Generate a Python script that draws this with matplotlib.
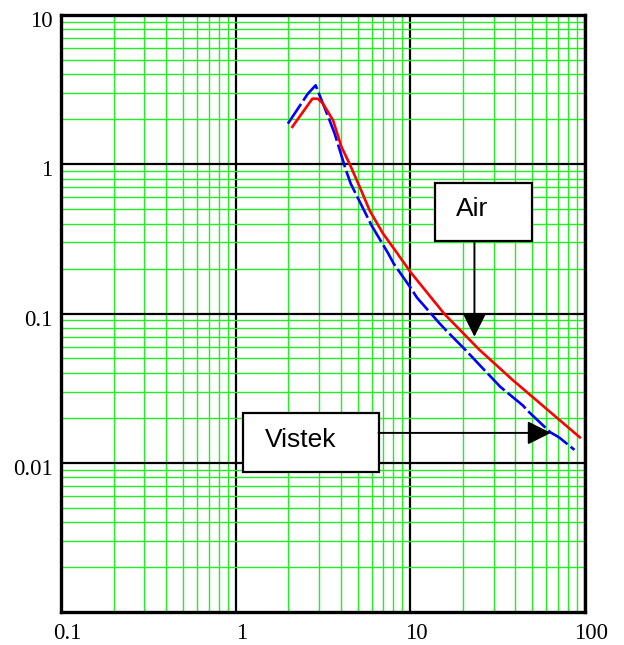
import numpy as np
import matplotlib.pyplot as plt
from matplotlib.patches import Rectangle
from matplotlib.transforms import ScaledTranslation

# values (log-log)
air_x = [2.11, 2.75, 2.95, 3.16, 3.61, 4.03, 4.5, 5.13, 5.85, 6.98, 8.32, 10.0, 15.7, 24.9, 38.7, 93.4]
air_y = [1.78, 2.75, 2.75, 2.55, 1.97, 1.31, 1.0, 0.705, 0.49, 0.343, 0.258, 0.19, 0.099, 0.057, 0.0357, 0.0148]

vistek_x = [1.99, 2.59, 2.87, 3.42, 3.69, 4.27, 4.56, 5.55, 5.99, 7.45, 8.03, 10.1, 10.9, 14.6,
            16.1, 20.8, 25.0, 32.8, 43.9, 48.3, 63.3, 71.0, 87.0]
vistek_y = [1.87, 2.97, 3.38, 2.02, 1.60, 0.92, 0.74, 0.467, 0.39, 0.254, 0.216, 0.147, 0.128, 0.0866,
            0.0766, 0.0566, 0.045, 0.0322, 0.0243, 0.0216, 0.0160, 0.0148, 0.0122]

xticks = [0.1, 1, 10, 100]
xlabels = ['0.1', '1', '10', '100']
yticks = [0.01, 0.1, 1, 10]
ylabels = ['0.01', '0.1', '1', '10']

fig = plt.figure(figsize=(6.24, 6.45), dpi=100)
ax = fig.add_axes([61/624, 33/645, 524/624, 597/645])

ax.set_xscale('log')
ax.set_yscale('log')
ax.set_xlim(0.1, 100)
ax.set_ylim(0.001, 10)

# grid
ax.set_xticks(xticks)
ax.set_yticks(yticks)
ax.xaxis.set_minor_locator(plt.matplotlib.ticker.LogLocator(base=10, subs=np.arange(2, 10)))
ax.yaxis.set_minor_locator(plt.matplotlib.ticker.LogLocator(base=10, subs=np.arange(2, 10)))
ax.xaxis.set_minor_formatter(plt.NullFormatter())
ax.yaxis.set_minor_formatter(plt.NullFormatter())
ax.grid(True, which='minor', color='#22ee22', lw=1.0)
ax.grid(True, which='major', color='black', lw=1.6)
ax.set_axisbelow(True)

ax.set_xticklabels(xlabels, family='Liberation Serif', fontsize=16.5)
ax.set_yticklabels(ylabels, family='Liberation Serif', fontsize=16.5)
ax.tick_params(which='both', length=0)
ax.tick_params(axis='x', pad=8)
ax.tick_params(axis='y', pad=6)

# labels sit a little right / low of their grid lines in the reference
for lab in ax.get_xticklabels():
    lab.set_transform(lab.get_transform() + ScaledTranslation(0.06, 0, fig.dpi_scale_trans))
for lab in ax.get_yticklabels():
    lab.set_transform(lab.get_transform() + ScaledTranslation(0, -0.04, fig.dpi_scale_trans))

for s in ax.spines.values():
    s.set_linewidth(2.4)

# curves
ax.plot(vistek_x, vistek_y, color='#0000ff', lw=1.9, dashes=[9, 1.5])
ax.plot(air_x, air_y, color='#ff0000', lw=1.9)

# annotation boxes
def label_box(x0, y0, x1, y1, tx, ty, txt):
    ax.add_patch(Rectangle((x0, y0), x1 - x0, y1 - y0, transform=ax.transAxes,
                           facecolor='white', edgecolor='black', lw=1.6, zorder=5))
    ax.text(tx, ty, txt, transform=ax.transAxes, ha='center', va='center',
            family='Liberation Sans', fontsize=19, zorder=6)

arrow = dict(arrowstyle='-|>,head_length=0.4,head_width=0.2', mutation_scale=36,
             color='black', lw=1.4, shrinkA=0, shrinkB=0)

label_box(0.714, 0.621, 0.898, 0.718, 0.784, 0.675, 'Air')
ax.annotate('', xy=(0.789, 0.461), xytext=(0.789, 0.621),
            xycoords='axes fraction', arrowprops=arrow, zorder=6)

label_box(0.348, 0.235, 0.606, 0.333, 0.457, 0.288, 'Vistek')
ax.annotate('', xy=(0.935, 0.300), xytext=(0.606, 0.300),
            xycoords='axes fraction', arrowprops=arrow, zorder=6)

plt.savefig('out.png', dpi=100)
